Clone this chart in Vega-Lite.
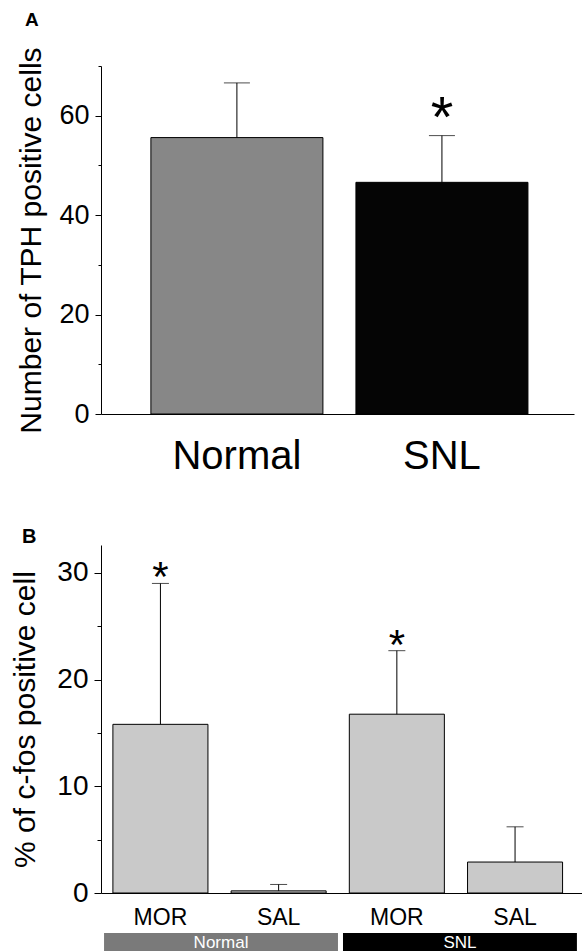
{
  "$schema": "https://vega.github.io/schema/vega-lite/v6.json",
  "padding": {"left": 10, "top": 10, "right": 0, "bottom": 0},
  "config": {
    "view": {"stroke": null},
    "font": "Liberation Sans",
    "axis": {"grid": false, "domainColor": "black", "tickColor": "black", "labelColor": "black", "titleColor": "black", "labelFont": "Liberation Sans", "titleFont": "Liberation Sans", "titleFontWeight": "normal"}
  },
  "spacing": 131,
  "bounds": "flush",
  "vconcat": [
    {
      "width": 473,
      "height": 348,
      "title": {"text": "A", "anchor": "start", "frame": "group", "fontSize": 19, "fontWeight": "bold", "font": "Liberation Sans", "color": "black", "dx": -76, "offset": 8},
      "data": {"values": [
        {"group": "Normal", "value": 55.6, "upper": 66.6, "sig": ""},
        {"group": "SNL", "value": 46.6, "upper": 56.0, "sig": "*"}
      ]},
      "encoding": {
        "x": {"field": "group", "type": "nominal", "sort": null,
          "scale": {"paddingInner": 0.161, "paddingOuter": 0.234, "align": 0.52},
          "axis": {"title": null, "labelAngle": 0, "labelFontSize": 40, "labelPadding": 22, "ticks": false}}
      },
      "layer": [
        {
          "mark": {"type": "bar", "stroke": "black", "strokeWidth": 1},
          "encoding": {
            "y": {"field": "value", "type": "quantitative", "scale": {"domain": [0, 70], "nice": false},
              "axis": {"title": "Number of TPH positive cells", "titleFontSize": 30, "titlePadding": 12,
                "values": [0, 10, 20, 30, 40, 50, 60, 70],
                "labelExpr": "datum.value % 20 === 0 ? datum.label : ''",
                "labelFontSize": 27, "labelPadding": 6,
                "tickSize": {"condition": {"test": "datum.value % 20 === 0", "value": 6}, "value": 3}}},
            "color": {"field": "group", "type": "nominal", "scale": {"domain": ["Normal", "SNL"], "range": ["#878787", "#050505"]}, "legend": null}
          }
        },
        {
          "mark": {"type": "rule", "color": "black", "strokeWidth": 1},
          "encoding": {"y": {"field": "value", "type": "quantitative"}, "y2": {"field": "upper"}}
        },
        {
          "mark": {"type": "tick", "color": "black", "size": 26, "thickness": 1},
          "encoding": {"y": {"field": "upper", "type": "quantitative"}}
        },
        {
          "mark": {"type": "text", "fontSize": 58, "baseline": "alphabetic", "dy": 1, "color": "black"},
          "encoding": {"y": {"field": "upper", "type": "quantitative"}, "text": {"field": "sig"}}
        }
      ]
    },
    {
      "spacing": 40,
      "bounds": "flush",
      "vconcat": [
        {
          "width": 481,
          "height": 348,
          "title": {"text": "B", "anchor": "start", "frame": "group", "fontSize": 20, "fontWeight": "bold", "font": "Liberation Sans", "color": "black", "dx": -79, "offset": -2},
          "data": {"values": [
            {"key": "Normal-MOR", "value": 15.8, "upper": 29.0, "sig": "*"},
            {"key": "Normal-SAL", "value": 0.2, "upper": 0.8, "sig": ""},
            {"key": "SNL-MOR", "value": 16.75, "upper": 22.7, "sig": "*"},
            {"key": "SNL-SAL", "value": 2.9, "upper": 6.2, "sig": ""}
          ]},
          "encoding": {
            "x": {"field": "key", "type": "nominal", "sort": null,
              "scale": {"paddingInner": 0.196, "paddingOuter": 0.1325, "align": 0.38},
              "axis": {"title": null, "labelAngle": 0, "labelFontSize": 23, "labelPadding": 13, "ticks": false,
                "labelExpr": "split(datum.label, '-')[1]"}}
          },
          "layer": [
            {
              "mark": {"type": "bar", "stroke": "black", "strokeWidth": 1, "color": "#c9c9c9"},
              "encoding": {
                "y": {"field": "value", "type": "quantitative", "scale": {"domain": [0, 32.6], "nice": false},
                  "axis": {"title": "% of c-fos positive cell", "titleFontSize": 30, "titlePadding": 16,
                    "values": [0, 5, 10, 15, 20, 25, 30],
                    "labelExpr": "datum.value % 10 === 0 ? datum.label : ''",
                    "labelFontSize": 28, "labelPadding": 6,
                    "tickSize": {"condition": {"test": "datum.value % 10 === 0", "value": 7}, "value": 4}}}
              }
            },
            {
              "mark": {"type": "rule", "color": "black", "strokeWidth": 1},
              "encoding": {"y": {"field": "value", "type": "quantitative"}, "y2": {"field": "upper"}}
            },
            {
              "mark": {"type": "tick", "color": "black", "size": 17, "thickness": 1},
              "encoding": {"y": {"field": "upper", "type": "quantitative"}}
            },
            {
              "mark": {"type": "text", "fontSize": 42, "baseline": "alphabetic", "dy": 8, "color": "black"},
              "encoding": {"y": {"field": "upper", "type": "quantitative"}, "text": {"field": "sig"}}
            }
          ]
        },
        {
          "width": 481,
          "height": 20,
          "data": {"values": [{"cond": "Normal"}, {"cond": "SNL"}]},
          "encoding": {
            "x": {"field": "cond", "type": "nominal", "sort": null,
              "scale": {"paddingInner": 0.021, "paddingOuter": 0.017, "align": 0.375}, "axis": null}
          },
          "layer": [
            {
              "mark": {"type": "bar"},
              "encoding": {"color": {"field": "cond", "type": "nominal", "scale": {"domain": ["Normal", "SNL"], "range": ["#7a7a7a", "#000000"]}, "legend": null}}
            },
            {
              "mark": {"type": "text", "color": "white", "fontSize": 17, "baseline": "middle"},
              "encoding": {"text": {"field": "cond"}}
            }
          ],
          "resolve": {"scale": {"color": "independent"}}
        }
      ]
    }
  ],
  "resolve": {"scale": {"color": "independent"}}
}
